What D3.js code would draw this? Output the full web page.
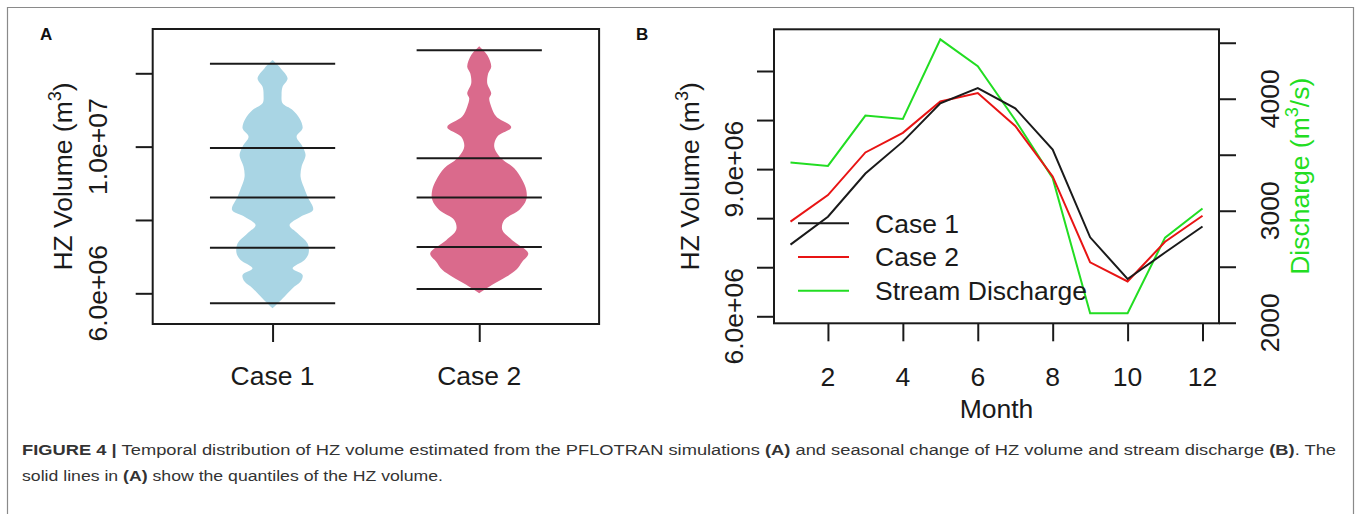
<!DOCTYPE html>
<html>
<head>
<meta charset="utf-8">
<script src="https://cdn.jsdelivr.net/npm/d3@7"></script>
<style>
  html, body { margin: 0; padding: 0; background: #fff; }
  svg { display: block; font-family: "Liberation Sans", Arial, Helvetica, sans-serif; }
</style>
</head>
<body>
<svg id="fig" width="1360" height="514"></svg>
<script>
// ---- Panel A: HZ volume distributions (violins + quantile lines) ----
const cases = ["Case 1", "Case 2"];
// violin outlines: HZ volume (m3) and relative density half-width
const violin1Vol = [12.36, 12.14, 11.86, 11.63, 11.41, 11.18, 11.0, 10.77, 10.5, 10.27, 10.0, 9.77, 9.45, 9.18, 8.91, 8.63, 8.27, 8.09, 7.86, 7.64, 7.36, 7.09, 6.91, 6.68, 6.5, 6.32, 6.14, 5.86, 5.59].map(v => v * 1e6);
const violin1Dens = [0, 0.16, 0.30, 0.20, 0.18, 0.20, 0.40, 0.54, 0.60, 0.48, 0.60, 0.66, 0.58, 0.56, 0.62, 0.70, 0.81, 0.56, 0.34, 0.50, 0.70, 0.72, 0.64, 0.40, 0.60, 0.56, 0.40, 0.20, 0];
const violin2Vol = [12.74, 12.5, 12.18, 12.0, 11.73, 11.45, 11.32, 11.09, 10.82, 10.53, 10.27, 10.0, 9.68, 9.41, 9.09, 8.82, 8.55, 8.27, 8.0, 7.73, 7.45, 7.09, 6.86, 6.64, 6.45, 6.23, 6.0].map(v => v * 1e6);
const violin2Dens = [0, 0.16, 0.24, 0.18, 0.16, 0.24, 0.20, 0.24, 0.34, 0.64, 0.36, 0.30, 0.44, 0.70, 0.86, 0.94, 0.94, 0.80, 0.50, 0.46, 0.66, 0.98, 0.86, 0.74, 0.54, 0.26, 0];
// quantiles (0, 25, 50, 75, 100 %)
const quant1 = [5.73e6, 7.24e6, 8.61e6, 9.96e6, 12.26e6];
const quant2 = [6.12e6, 7.26e6, 8.61e6, 9.68e6, 12.63e6];
const yTicksA = [6e6, 8e6, 10e6, 12e6];
const yLabelsA = { 6e6: "6.0e+06", 10e6: "1.0e+07" };

// ---- Panel B: monthly HZ volume and stream discharge ----
const months = [1, 2, 3, 4, 5, 6, 7, 8, 9, 10, 11, 12];
const case1Monthly = [7.46, 8.03, 8.91, 9.56, 10.34, 10.65, 10.24, 9.40, 7.61, 6.76, 7.30, 7.83].map(v => v * 1e6);
const case2Monthly = [7.93, 8.47, 9.34, 9.74, 10.38, 10.55, 9.88, 8.85, 7.10, 6.71, 7.52, 8.05].map(v => v * 1e6);
const discharge = [3430, 3400, 3850, 3820, 4530, 4290, 3810, 3290, 2085, 2085, 2760, 3020];
const monthTicks = [2, 4, 6, 8, 10, 12];
const yTicksB = [6e6, 7e6, 8e6, 9e6, 10e6, 11e6];
const yLabelsB = { 6e6: "6.0e+06", 9e6: "9.0e+06" };
const qTicks = [2000, 2500, 3000, 3500, 4000, 4500];
const qLabels = { 2000: "2000", 3000: "3000", 4000: "4000" };
const legendItems = ["Case 1", "Case 2", "Stream Discharge"];

const INK = "#1a1a1a";
const RED = "#e81414";
const GREEN = "#22dd22";
const FS = 26.5;

const svg = d3.select("#fig");

// figure frame
svg.append("path")
  .attr("d", "M7.5,520 V7.5 H1353.5 V520")
  .attr("fill", "none").attr("stroke", "#8a8a8a").attr("stroke-width", 1.2);

// rotated y-axis text helper (reads bottom to top)
function vText(g, x, y, parts, color) {
  const t = g.append("text")
    .attr("transform", `translate(${x},${y}) rotate(-90)`)
    .attr("text-anchor", "middle").attr("dy", "0.35em")
    .attr("font-size", FS).attr("fill", color || INK);
  parts.forEach(p => {
    const s = t.append("tspan").text(p.t);
    if (p.sup) s.attr("font-size", FS * 0.68).attr("dy", -FS * 0.42);
    if (p.after) s.attr("dy", FS * 0.42);
  });
  return t;
}

// ================= Panel A =================
const gA = svg.append("g");
const xA = d3.scaleLinear().domain([0.42, 2.58]).range([152.7, 599.1]);
const yA = d3.scaleLinear().domain([5.163e6, 13.208e6]).range([324, 29]);
const wA = d3.scaleLinear().domain([0, 1]).range([0, xA(1.242) - xA(1)]);

gA.append("text").attr("x", 40).attr("y", 40)
  .attr("font-size", 17).attr("font-weight", "bold").attr("fill", "#111").text("A");

const violins = [
  { pos: 1, vol: violin1Vol, dens: violin1Dens, q: quant1, fill: "#a9d5e4" },
  { pos: 2, vol: violin2Vol, dens: violin2Dens, q: quant2, fill: "#da6a8c" }
];
violins.forEach(v => {
  const pts = v.vol.map((val, i) => ({ val, d: v.dens[i] }));
  const area = d3.area()
    .y(d => yA(d.val))
    .x0(d => xA(v.pos) - wA(d.d))
    .x1(d => xA(v.pos) + wA(d.d))
    .curve(d3.curveCatmullRom.alpha(0.5));
  gA.append("path").datum(pts.slice().reverse())
    .attr("d", area).attr("fill", v.fill).attr("stroke", "none");
  gA.selectAll(null).data(v.q).enter().append("line")
    .attr("x1", xA(v.pos - 0.303)).attr("x2", xA(v.pos + 0.303))
    .attr("y1", d => yA(d)).attr("y2", d => yA(d))
    .attr("stroke", INK).attr("stroke-width", 2);
});

// box
gA.append("rect").attr("x", xA(0.42)).attr("y", yA(13.208e6))
  .attr("width", xA(2.58) - xA(0.42)).attr("height", yA(5.163e6) - yA(13.208e6))
  .attr("fill", "none").attr("stroke", INK).attr("stroke-width", 2);

// y axis
const axA = gA.append("g").attr("transform", `translate(${xA(0.42)},0)`)
  .call(d3.axisLeft(yA).tickValues(yTicksA).tickSize(17).tickFormat(""));
axA.select(".domain").remove();
axA.selectAll(".tick line").attr("stroke", INK).attr("stroke-width", 2);
yTicksA.filter(t => yLabelsA[t]).forEach(t => vText(gA, 98, yA(t), [{ t: yLabelsA[t] }]));
vText(gA, 63, (yA(5.163e6) + yA(13.208e6)) / 2, [{ t: "HZ Volume (m" }, { t: "3", sup: true }, { t: ")", after: true }]);

// x axis
const axAx = gA.append("g").attr("transform", `translate(0,${yA(5.163e6)})`)
  .call(d3.axisBottom(xA).tickValues([1, 2]).tickSize(18).tickFormat(""));
axAx.select(".domain").remove();
axAx.selectAll(".tick line").attr("stroke", INK).attr("stroke-width", 2);
gA.selectAll(".caseLabel").data(cases).enter().append("text")
  .attr("x", (d, i) => xA(i + 1)).attr("y", 385)
  .attr("text-anchor", "middle").attr("font-size", FS).attr("fill", INK).text(d => d);

// ================= Panel B =================
const gB = svg.append("g");
const xB = d3.scaleLinear().domain([0.56, 12.44]).range([774, 1219]);
const yB = d3.scaleLinear().domain([5.857e6, 11.85e6]).range([323.3, 29.3]);
const yQ = d3.scaleLinear().domain([1995, 4620]).range([323.3, 29.3]);

gB.append("text").attr("x", 636).attr("y", 40)
  .attr("font-size", 17).attr("font-weight", "bold").attr("fill", "#111").text("B");

const lineVol = d3.line().x((d, i) => xB(months[i])).y(d => yB(d));
const lineQ = d3.line().x((d, i) => xB(months[i])).y(d => yQ(d));
gB.append("path").datum(discharge).attr("d", lineQ)
  .attr("fill", "none").attr("stroke", GREEN).attr("stroke-width", 2);
gB.append("path").datum(case2Monthly).attr("d", lineVol)
  .attr("fill", "none").attr("stroke", RED).attr("stroke-width", 2);
gB.append("path").datum(case1Monthly).attr("d", lineVol)
  .attr("fill", "none").attr("stroke", INK).attr("stroke-width", 2);

// box
gB.append("rect").attr("x", 774).attr("y", yB(11.85e6))
  .attr("width", 1219 - 774).attr("height", yB(5.857e6) - yB(11.85e6))
  .attr("fill", "none").attr("stroke", INK).attr("stroke-width", 2);

// left axis
const axBl = gB.append("g").attr("transform", "translate(774,0)")
  .call(d3.axisLeft(yB).tickValues(yTicksB).tickSize(17).tickFormat(""));
axBl.select(".domain").remove();
axBl.selectAll(".tick line").attr("stroke", INK).attr("stroke-width", 2);
yTicksB.filter(t => yLabelsB[t]).forEach(t => vText(gB, 734, yB(t), [{ t: yLabelsB[t] }]));
vText(gB, 690, (yB(5.857e6) + yB(11.85e6)) / 2, [{ t: "HZ Volume (m" }, { t: "3", sup: true }, { t: ")", after: true }]);

// right axis (discharge)
const axBr = gB.append("g").attr("transform", "translate(1219,0)")
  .call(d3.axisRight(yQ).tickValues(qTicks).tickSize(17).tickFormat(""));
axBr.select(".domain").remove();
axBr.selectAll(".tick line").attr("stroke", INK).attr("stroke-width", 2);
qTicks.filter(t => qLabels[t]).forEach(t => vText(gB, 1270, yQ(t), [{ t: qLabels[t] }]));
vText(gB, 1300, (yQ(1995) + yQ(4620)) / 2, [{ t: "Discharge (m" }, { t: "3", sup: true }, { t: "/s)", after: true }], GREEN);

// bottom axis
const axBb = gB.append("g").attr("transform", "translate(0,323.3)")
  .call(d3.axisBottom(xB).tickValues(monthTicks).tickSize(18).tickFormat(""));
axBb.select(".domain").remove();
axBb.selectAll(".tick line").attr("stroke", INK).attr("stroke-width", 2);
gB.selectAll(".mLabel").data(monthTicks).enter().append("text")
  .attr("x", d => xB(d)).attr("y", 386)
  .attr("text-anchor", "middle").attr("font-size", FS).attr("fill", INK).text(d => d);
gB.append("text").attr("x", (774 + 1219) / 2).attr("y", 418)
  .attr("text-anchor", "middle").attr("font-size", FS).attr("fill", INK).text("Month");

// legend
const legColors = [INK, RED, GREEN];
const leg = gB.selectAll(".leg").data(legendItems).enter().append("g")
  .attr("transform", (d, i) => `translate(798,${223.3 + i * 33.7})`);
leg.append("line").attr("x1", 0).attr("x2", 51)
  .attr("stroke", (d, i) => legColors[i]).attr("stroke-width", 2);
leg.append("text").attr("x", 77).attr("dy", "0.35em")
  .attr("font-size", FS).attr("fill", INK).text(d => d);

// ================= Caption =================
const cap = svg.append("g").attr("fill", "#333").attr("font-size", 15.5);
const line1 = cap.append("text").attr("x", 22).attr("y", 455)
  .attr("textLength", 1314).attr("lengthAdjust", "spacingAndGlyphs");
[["FIGURE 4 | ", true], ["Temporal distribution of HZ volume estimated from the PFLOTRAN simulations ", false],
 ["(A)", true], [" and seasonal change of HZ volume and stream discharge ", false], ["(B)", true], [". The", false]]
  .forEach(([t, b]) => line1.append("tspan").attr("font-weight", b ? "bold" : "normal").text(t));
const line2 = cap.append("text").attr("x", 22).attr("y", 481)
  .attr("textLength", 421).attr("lengthAdjust", "spacingAndGlyphs");
[["solid lines in ", false], ["(A)", true], [" show the quantiles of the HZ volume.", false]]
  .forEach(([t, b]) => line2.append("tspan").attr("font-weight", b ? "bold" : "normal").text(t));
</script>
</body>
</html>
